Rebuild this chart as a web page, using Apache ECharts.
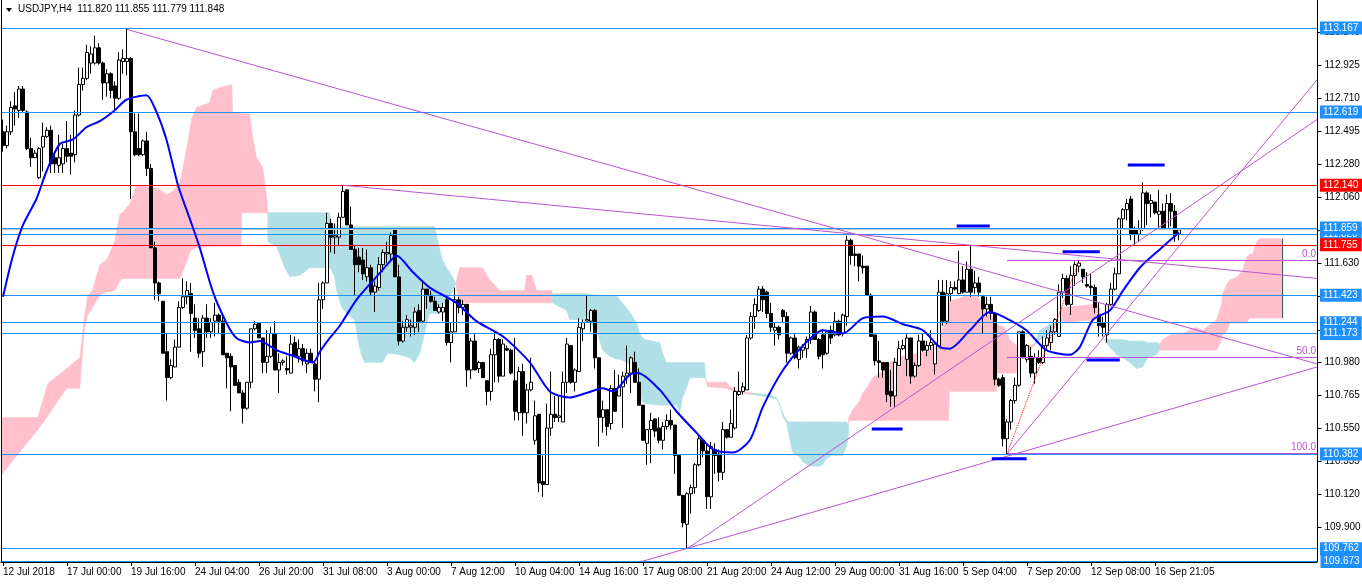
<!DOCTYPE html>
<html><head><meta charset="utf-8">
<script src="https://cdn.jsdelivr.net/npm/echarts@6/dist/echarts.min.js"></script>
<style>html,body{margin:0;padding:0;background:#fff}#c{width:1362px;height:584px}</style>
</head><body><div id="c"></div>
<script>
const tickLabels = ['12 Jul 2018','17 Jul 00:00','19 Jul 16:00','24 Jul 04:00','26 Jul 20:00','31 Jul 08:00','3 Aug 00:00','7 Aug 12:00','10 Aug 04:00','14 Aug 16:00','17 Aug 08:00','21 Aug 20:00','24 Aug 12:00','29 Aug 00:00','31 Aug 16:00','5 Sep 04:00','7 Sep 20:00','12 Sep 08:00','16 Sep 21:05'];
const priceTicks = [113.145,112.925,112.710,112.495,112.280,112.060,111.845,111.630,111.415,111.195,110.980,110.765,110.550,110.335,110.120,109.900];

const opens = [112.49,112.40,112.49,112.66,112.63,112.77,112.62,112.38,112.32,112.19,112.39,112.46,112.50,112.32,112.27,112.28,112.38,112.35,112.34,112.60,
112.80,112.84,112.94,112.94,113.04,112.94,112.81,112.87,112.79,112.71,112.95,112.95,112.97,112.49,112.38,112.34,112.43,112.25,111.73,111.50,
111.38,111.05,110.88,110.95,111.08,111.34,111.41,111.43,111.27,111.20,111.05,111.27,111.18,111.25,111.29,111.25,111.04,111.02,110.96,110.85,
110.78,110.68,110.85,111.20,111.24,111.14,110.98,111.02,111.17,110.93,110.98,110.94,110.91,111.11,111.02,111.07,110.97,111.04,110.97,110.87,
111.39,111.50,111.89,111.80,111.80,111.93,112.11,111.88,111.72,111.67,111.65,111.54,111.60,111.44,111.47,111.62,111.69,111.69,111.85,111.54,
111.12,111.21,111.21,111.21,111.32,111.25,111.46,111.42,111.38,111.31,111.31,111.39,111.11,111.18,111.39,111.34,111.36,110.93,111.12,110.94,
110.98,110.86,110.79,111.03,111.13,110.89,111.07,111.06,110.86,110.65,110.92,110.65,110.80,110.47,110.64,110.20,110.18,110.55,110.64,110.62,
110.59,110.85,111.09,110.85,110.92,111.20,111.25,111.25,111.32,111.01,110.62,110.67,110.58,110.81,110.76,110.82,110.89,110.91,110.98,110.85,
110.70,110.45,110.54,110.61,110.55,110.47,110.56,110.60,110.57,110.37,110.11,109.92,110.12,110.16,110.31,110.47,110.40,110.10,110.41,110.38,
110.26,110.54,110.49,110.55,110.77,110.79,110.80,111.14,111.28,111.32,111.46,111.44,111.30,111.19,111.21,111.32,111.28,111.04,111.14,111.00,
111.06,111.07,111.13,111.31,111.13,111.16,111.04,111.19,111.16,111.25,111.17,111.28,111.78,111.69,111.69,111.61,111.61,111.42,111.16,110.99,
110.98,110.98,110.79,110.76,110.96,111.07,111.00,111.14,110.89,110.96,111.12,111.06,111.09,110.97,111.09,111.44,111.25,111.43,111.47,111.43,
111.52,111.44,111.59,111.47,111.50,111.41,111.33,111.36,111.30,110.87,110.88,110.48,110.59,110.73,110.83,111.18,111.00,111.02,110.91,111.01,
110.98,111.09,111.11,111.18,111.15,111.44,111.53,111.36,111.55,111.61,111.59,111.49,111.48,111.47,111.29,111.24,111.16,111.36,111.46,111.56,
111.92,111.98,112.05,111.85,111.82,111.85,112.09,112.02,112.03,111.95,111.97,111.85,112.02,111.97,111.820];
const highs = [112.57,112.53,112.69,112.75,112.79,112.79,112.63,112.45,112.37,112.39,112.55,112.52,112.53,112.36,112.47,112.41,112.56,112.47,112.63,112.91,
112.91,113.06,113.05,113.12,113.07,112.95,112.90,112.88,112.82,113.01,113.03,113.17,112.98,112.61,112.61,112.44,112.49,112.28,111.77,111.51,
111.38,111.17,111.00,111.13,111.38,111.53,111.51,111.50,111.36,111.27,111.29,111.36,111.27,111.37,111.30,111.30,111.04,111.04,110.96,110.87,
110.80,110.85,111.20,111.25,111.24,111.14,111.19,111.21,111.25,111.04,111.00,111.02,111.16,111.15,111.13,111.10,111.07,111.07,110.98,111.50,
111.51,111.96,111.92,111.89,111.96,112.14,112.11,112.00,111.75,111.73,111.73,111.72,111.62,111.51,111.67,111.72,111.77,111.83,111.86,111.62,
111.25,111.29,111.26,111.34,111.36,111.52,111.46,111.45,111.41,111.36,111.37,111.41,111.24,111.47,111.41,111.39,111.36,111.14,111.17,110.99,
110.98,110.86,111.07,111.18,111.14,111.13,111.09,111.07,111.14,110.95,110.97,110.84,111.01,110.73,110.64,110.37,110.71,110.92,110.76,110.76,
110.92,111.14,111.09,110.94,111.27,111.26,111.42,111.33,111.33,111.01,110.73,110.67,110.83,110.93,110.90,110.92,111.09,111.02,111.05,110.94,
110.70,110.54,110.65,110.61,110.62,110.59,110.64,110.67,110.57,110.37,110.11,110.13,110.18,110.32,110.50,110.48,110.45,110.46,110.45,110.41,
110.59,110.54,110.67,110.82,110.92,110.85,111.16,111.31,111.40,111.48,111.48,111.45,111.37,111.24,111.22,111.33,111.31,111.15,111.17,111.09,
111.10,111.15,111.35,111.32,111.14,111.20,111.19,111.22,111.31,111.26,111.30,111.81,111.79,111.75,111.69,111.68,111.61,111.43,111.16,111.12,
110.98,110.98,110.93,111.01,111.12,111.13,111.17,111.14,110.98,111.16,111.17,111.12,111.19,111.11,111.52,111.52,111.52,111.51,111.51,111.71,
111.61,111.64,111.75,111.58,111.54,111.42,111.41,111.41,111.31,110.88,110.90,110.61,110.74,110.88,111.18,111.19,111.10,111.08,111.04,111.06,
111.15,111.19,111.22,111.27,111.49,111.56,111.55,111.61,111.64,111.65,111.59,111.57,111.56,111.49,111.37,111.28,111.37,111.50,111.60,111.93,
111.99,112.05,112.07,111.87,111.91,112.16,112.10,112.08,112.03,112.11,112.02,112.08,112.09,112.01,111.855];
const lows = [112.36,112.38,112.47,112.53,112.58,112.62,112.37,112.26,112.32,112.18,112.23,112.45,112.22,112.22,112.22,112.22,112.29,112.21,112.29,112.59,
112.76,112.83,112.87,112.93,112.93,112.70,112.72,112.71,112.63,112.70,112.87,112.86,112.05,112.33,112.33,112.33,112.20,111.73,111.39,111.38,
111.04,110.73,110.87,110.95,111.08,111.33,111.36,111.05,111.14,111.01,110.95,111.14,111.14,111.15,111.17,111.03,110.81,110.66,110.83,110.78,
110.58,110.67,110.81,111.19,111.14,110.91,110.91,111.01,110.93,110.78,110.96,110.90,110.91,111.02,110.98,110.96,110.91,110.98,110.79,110.72,
111.33,111.50,111.70,111.69,111.74,111.93,111.88,111.72,111.42,111.57,111.52,111.51,111.42,111.31,111.45,111.57,111.63,111.65,111.54,111.09,
111.11,111.18,111.15,111.16,111.18,111.24,111.33,111.37,111.32,111.30,111.25,111.09,110.98,111.18,111.30,111.29,110.82,110.87,110.93,110.91,
110.88,110.70,110.73,110.85,110.85,110.89,111.06,110.90,110.60,110.60,110.50,110.58,110.79,110.44,110.13,110.10,110.18,110.50,110.59,110.59,
110.59,110.78,110.84,110.79,110.92,111.12,111.25,111.18,110.94,110.43,110.52,110.50,110.54,110.66,110.76,110.55,110.84,110.78,110.85,110.70,
110.47,110.31,110.32,110.49,110.45,110.41,110.54,110.54,110.25,110.11,109.90,109.76,109.99,110.12,110.30,110.36,110.02,110.02,110.25,110.20,
110.21,110.48,110.49,110.54,110.76,110.77,110.80,111.13,111.20,111.31,111.31,111.27,111.18,111.09,111.13,111.24,110.98,111.03,111.00,110.94,
111.01,111.01,111.10,111.13,111.00,110.94,111.03,111.10,111.15,111.15,111.15,111.22,111.62,111.61,111.51,111.56,111.42,111.15,110.96,110.88,
110.88,110.72,110.69,110.69,110.96,111.06,110.89,110.84,110.88,110.95,111.05,111.02,111.06,110.90,111.09,111.22,111.23,111.38,111.45,111.43,
111.43,111.44,111.41,111.43,111.41,111.17,111.28,111.26,110.83,110.82,110.43,110.38,110.54,110.71,110.82,111.01,110.98,110.88,110.84,110.97,
110.97,111.06,111.06,111.16,111.15,111.40,111.35,111.29,111.48,111.57,111.50,111.47,111.42,111.30,111.15,111.15,111.11,111.35,111.45,111.56,
111.86,111.91,111.78,111.75,111.77,111.84,111.88,111.93,111.95,111.85,111.85,111.85,111.87,111.77,111.779];
const closes = [112.40,112.49,112.65,112.64,112.77,112.63,112.38,112.32,112.35,112.38,112.46,112.50,112.28,112.28,112.32,112.38,112.33,112.33,112.60,112.80,
112.84,113.01,113.00,113.04,112.94,112.81,112.87,112.76,112.71,112.96,112.97,112.97,112.49,112.34,112.34,112.43,112.25,111.73,111.50,111.43,
111.04,110.88,110.96,111.08,111.34,111.41,111.45,111.30,111.19,111.04,111.27,111.18,111.24,111.29,111.25,111.03,111.01,110.95,110.83,110.78,
110.68,110.85,111.20,111.23,111.14,110.98,111.02,111.17,110.93,110.98,110.99,110.93,111.10,111.02,111.07,110.99,111.04,110.98,110.87,111.39,
111.50,111.89,111.80,111.81,111.93,112.10,111.88,111.72,111.62,111.62,111.56,111.60,111.44,111.48,111.62,111.70,111.70,111.81,111.54,111.12,
111.21,111.26,111.22,111.31,111.25,111.46,111.42,111.38,111.32,111.34,111.34,111.11,111.18,111.39,111.34,111.36,110.93,111.12,110.93,110.98,
110.88,110.79,111.03,111.13,110.89,111.10,111.06,110.91,110.66,110.92,110.65,110.80,110.85,110.63,110.19,110.18,110.55,110.64,110.62,110.63,
110.85,111.10,110.85,110.93,111.21,111.24,111.26,111.32,111.01,110.62,110.67,110.56,110.81,110.66,110.82,110.89,110.91,111.01,110.85,110.70,
110.47,110.54,110.60,110.53,110.47,110.56,110.60,110.57,110.37,110.11,109.93,110.12,110.16,110.31,110.48,110.40,110.10,110.43,110.37,110.26,
110.54,110.49,110.58,110.79,110.79,110.82,111.14,111.28,111.36,111.46,111.39,111.30,111.21,111.21,111.16,111.28,111.04,111.14,111.01,111.08,
111.08,111.13,111.31,111.13,111.02,111.03,111.18,111.14,111.25,111.16,111.29,111.78,111.68,111.68,111.61,111.60,111.42,111.15,110.99,110.98,
110.93,110.77,110.76,110.98,111.07,111.09,111.14,110.89,110.96,111.12,111.06,111.09,111.11,111.10,111.44,111.25,111.43,111.47,111.46,111.52,
111.44,111.59,111.44,111.50,111.44,111.33,111.36,111.30,110.87,110.83,110.48,110.59,110.73,110.83,111.18,111.01,111.09,110.91,111.01,110.98,
111.09,111.14,111.18,111.26,111.44,111.53,111.36,111.55,111.62,111.63,111.54,111.48,111.47,111.34,111.22,111.21,111.36,111.46,111.56,111.92,
111.98,112.02,111.82,111.82,111.85,112.09,112.02,112.04,111.96,111.97,111.85,112.02,111.97,111.81,111.848];

const maPoints = [[0,111.41],[2.5,111.68],[5,111.88],[8.35,112.05],[10.85,112.23],[14.2,112.41],[17.5,112.44],[20.85,112.52],[24.2,112.56],[27.9,112.63],[30.85,112.70],[35.85,112.73],[38.35,112.62],[40.85,112.44],[43.75,112.14],[46.7,111.92],[49.2,111.73],[52.5,111.44],[55.85,111.24],[58.35,111.14],[61.7,111.11],[64.2,111.12],[68.35,111.06],[71.7,111.03],[77.5,110.98],[79.2,111.05],[81.7,111.14],[84.2,111.22],[88.35,111.39],[93.35,111.54],[96.7,111.64],[98.35,111.68],[102.5,111.57],[106.7,111.47],[113.35,111.37],[118.35,111.25],[125,111.15],[131.7,110.98],[136.7,110.79],[141.7,110.75],[145.85,110.78],[150,110.81],[152.5,110.79],[156.7,110.90],[158.75,110.91],[164.2,110.80],[168.35,110.66],[173.35,110.52],[177.5,110.41],[182.5,110.39],[186.7,110.47],[190,110.69],[195,110.93],[200,111.09],[205,111.19],[210,111.17],[215,111.27],[220,111.28],[225,111.23],[230,111.19],[234.2,111.08],[236.7,111.07],[241.7,111.19],[246.7,111.31],[250,111.28],[255.85,111.19],[260.85,111.06],[266.7,111.03],[269.2,111.08],[272.5,111.26],[276.7,111.32],[280,111.45],[284.2,111.60],[289.2,111.72],[294,111.83]];

// Ichimoku cloud patches: [bar index, upper price, lower price]
const cloudPink1 = [[-0.5,110.62,110.24],[8.7,110.62,110.54],[10.4,110.77,110.60],[11.2,110.84,110.63],[15.9,110.94,110.81],[19.2,111.01,110.81],[20.4,111.29,111.21],[21.2,111.42,111.29],[22.4,111.45,111.34],[24.2,111.62,111.42],[25.9,111.65,111.44],[27.9,111.77,111.45],[29.2,111.95,111.51],[29.9,111.96,111.53],[31.7,112.02,111.53],[33.4,112.14,111.53],[38.7,112.12,111.53],[40.9,112.08,111.53],[42.4,112.10,111.53],[44.2,112.16,111.53],[44.9,112.24,111.57],[45.9,112.38,111.64],[46.7,112.50,111.70],[47.2,112.58,111.72],[48.4,112.65,111.73],[51.7,112.68,111.74],[52.4,112.76,111.74],[54.2,112.78,111.74],[57.2,112.80,111.74],[57.4,112.62,111.74],[59.5,112.61,111.74],[59.7,112.61,111.96],[61.7,112.61,111.96],[62.4,112.46,111.96],[63.4,112.32,111.96],[64.9,112.26,111.96],[65.4,112.17,111.96],[65.9,112.06,111.96],[66.2,111.96,111.96]];
const cloudBlue1 = [[66.2,111.96,111.77],[68.4,111.96,111.74],[70.4,111.96,111.60],[71.7,111.96,111.54],[74.2,111.96,111.55],[76.7,111.96,111.60],[81.7,111.96,111.60],[82.0,111.87,111.59],[82.9,111.87,111.54],[83.4,111.87,111.45],[84.7,111.87,111.34],[85.9,111.87,111.30],[87.9,111.87,111.26],[88.7,111.87,111.13],[89.7,111.87,111.02],[90.4,111.87,110.98],[94.9,111.87,110.98],[96.2,111.87,111.04],[99.2,111.87,111.03],[101.7,111.87,111.01],[102.9,111.87,110.98],[104.2,111.87,111.04],[105.4,111.87,111.17],[106.2,111.87,111.26],[106.7,111.87,111.30],[107.9,111.87,111.30],[109.2,111.72,111.30],[109.9,111.65,111.37],[110.9,111.60,111.36],[112.4,111.54,111.45],[113.2,111.50,111.50]];
const cloudPink2 = [[113.2,111.50,111.50],[113.7,111.55,111.40],[114.2,111.60,111.37],[119.9,111.60,111.37],[121.2,111.54,111.37],[122.4,111.50,111.37],[124.2,111.45,111.37],[130.4,111.45,111.37],[130.9,111.55,111.37],[132.2,111.55,111.37],[133.4,111.45,111.37],[137.3,111.45,111.37]];
const cloudBlue2 = [[137.3,111.43,111.37],[140.9,111.43,111.32],[141.7,111.43,111.26],[146.2,111.43,111.26],[148.4,111.42,111.19],[149.9,111.42,111.06],[151.7,111.42,111.02],[153.4,111.42,111.00],[154.2,111.39,111.00],[156.7,111.31,110.97],[157.4,111.28,110.95],[158.4,111.24,110.92],[159.2,111.17,110.84],[159.7,111.15,110.73],[160.4,111.13,110.71],[164.2,111.11,110.70],[165.0,111.03,110.70],[165.9,110.98,110.70],[168.4,110.98,110.70],[169.2,110.98,110.65],[169.9,110.98,110.75],[170.9,110.98,110.81],[171.7,110.98,110.88],[175.4,110.98,110.88],[175.7,110.86,110.86]];
const cloudPink3 = [[175.7,110.86,110.86],[176.2,110.85,110.82],[180.9,110.85,110.81],[181.7,110.82,110.80],[184.2,110.79,110.78],[187.2,110.78,110.77]];
const cloudBlue3 = [[187.2,110.78,110.77],[191.7,110.77,110.75],[193.4,110.75,110.74],[194.2,110.71,110.70],[194.9,110.65,110.63],[195.9,110.60,110.58],[196.7,110.59,110.47],[197.4,110.59,110.39],[199.2,110.59,110.36],[199.9,110.59,110.33],[201.7,110.59,110.30],[204.2,110.59,110.30],[204.9,110.59,110.31],[205.9,110.59,110.35],[207.2,110.59,110.37],[209.9,110.59,110.37],[210.9,110.59,110.43],[211.4,110.57,110.50]];
const cloudPink4 = [[211.4,110.62,110.58],[211.7,110.63,110.60],[212.4,110.67,110.60],[213.4,110.70,110.60],[214.2,110.73,110.60],[214.9,110.78,110.60],[215.9,110.81,110.60],[216.7,110.85,110.60],[217.4,110.88,110.60],[219.9,110.92,110.60],[221.7,110.98,110.60],[224.9,111.02,110.60],[229.2,111.04,110.60],[231.7,111.06,110.60],[234.2,111.15,110.60],[235.9,111.28,110.60],[236.4,111.33,110.60],[236.6,111.38,110.79],[239.2,111.40,110.79],[240.9,111.42,110.79],[243.4,111.42,110.79],[244.2,111.38,110.79],[244.9,111.34,110.79],[246.2,111.30,110.79],[247.4,111.28,110.79],[248.4,111.23,110.79],[248.6,111.23,110.91],[250.4,111.21,110.91],[251.7,111.13,110.91],[253.4,111.09,110.91],[254.1,111.09,111.02],[255.9,111.09,111.02],[256.7,111.09,111.06],[257.9,111.10,111.09]];
const cloudBlue4 = [[257.9,111.10,111.09],[259.2,111.19,111.13],[261.7,111.23,111.16],[263.4,111.24,111.22]];
const cloudPink5 = [[263.4,111.26,111.24],[264.7,111.34,111.24],[273.0,111.36,111.26],[274.2,111.34,111.26],[275.2,111.15,111.13]];
const cloudBlue5 = [[275.2,111.13,111.13],[276.7,111.13,111.08],[278.4,111.13,111.03],[279.9,111.13,111.01],[281.7,111.12,110.98],[283.4,111.12,110.94],[284.9,111.12,110.95],[286.2,111.11,111.01],[288.4,111.11,111.03],[289.2,111.10,111.06]];
const cloudPink6 = [[289.2,111.10,111.06],[289.9,111.13,111.06],[291.7,111.16,111.06],[294.9,111.17,111.06],[298.4,111.21,111.06],[299.9,111.19,111.06],[302.4,111.24,111.06],[303.4,111.26,111.06],[304.7,111.37,111.13],[304.9,111.43,111.16],[305.9,111.49,111.18],[306.7,111.52,111.24],[308.4,111.54,111.24],[309.9,111.58,111.24],[310.9,111.67,111.24],[311.7,111.69,111.27],[312.4,111.69,111.27],[313.4,111.77,111.27],[314.2,111.79,111.27],[319.9,111.79,111.27]];
const pinkClouds = [cloudPink1, cloudPink2, cloudPink3, cloudPink4, cloudPink5, cloudPink6];
const blueClouds = [cloudBlue1, cloudBlue2, cloudBlue3, cloudBlue4, cloudBlue5];
const cloudEdge = [[319.9,111.79],[319.9,111.27]];

const blueLevels = [113.167, 112.619, 111.820, 111.859, 111.423, 111.244, 111.173, 110.382, 109.762];
const redLevels = [112.140, 111.755];
const bidPrice = 111.848;

const trendLines = [
  [[31,113.16],[328.5,110.97]],
  [[85,112.14],[328.5,111.53]],
  [[171,109.76],[328.5,112.57]],
  [[159.2,109.673],[328.5,110.95]],
  [[251,110.38],[328.5,112.83]]
];
const fibStart = 251;
const fibLevels = [111.646, 111.013, 110.382];
const fibNames = ['0.0', '50.0', '100.0'];
const fibTrend = [[251,110.38],[269,111.646]];
const srSegments = [
  [[238.4,111.873],[246.7,111.873]],
  [[264.9,111.705],[274.2,111.705]],
  [[281.2,112.272],[290.4,112.272]],
  [[217.2,110.544],[224.9,110.544]],
  [[270.9,110.995],[279.2,110.995]],
  [[247.2,110.349],[255.9,110.349]]
];
const header = 'USDJPY,H4  111.820 111.855 111.779 111.848';

// ---------- build ----------
const N = 329, STEP = 16, XMAX = N - 0.5;
const YMIN = 109.673, YMAX = 113.353;
const cats = Array.from({length: N}, (_, i) => (i % STEP === 0 && i / STEP < tickLabels.length) ? tickLabels[i / STEP] : '');
const showTick = (i) => i % STEP === 0 && i / STEP < tickLabels.length;
const FONT = 'Liberation Sans';
const candleData = opens.map((o, i) => [o, closes[i], lows[i], highs[i]]);

function cloudSeries(patches, color) {
  return {
    type: 'custom', xAxisIndex: 1, yAxisIndex: 0, z: 1, silent: true, clip: true,
    data: patches.map((p, k) => [k, 111]),
    renderItem: function (params, api) {
      const pts = patches[params.dataIndex];
      const top = pts.map(p => api.coord([p[0], p[1]]));
      const bot = pts.slice().reverse().map(p => api.coord([p[0], p[2]]));
      return { type: 'polygon', shape: { points: top.concat(bot) }, style: { fill: color, stroke: color, lineWidth: 0.5 } };
    }
  };
}
function seg(points, color, width, type, z) {
  return { type: 'line', xAxisIndex: 1, yAxisIndex: 0, data: points, showSymbol: false, symbol: 'none',
    silent: true, z: z || 6, lineStyle: { color: color, width: width, type: type || 'solid' }, animation: false };
}
function levelLabel(v, color) {
  return { show: true, position: 'end', distance: 3, formatter: v.toFixed(3), color: '#fff', backgroundColor: color,
    padding: [2, 4, 1, 3], fontSize: 10, fontFamily: FONT };
}

const levelMarks = [];
blueLevels.forEach(v => levelMarks.push({ yAxis: v, lineStyle: { color: '#1E90FF', width: 1, type: 'solid' }, label: levelLabel(v, '#1E90FF') }));
redLevels.forEach(v => levelMarks.push({ yAxis: v, lineStyle: { color: '#FF0000', width: 1, type: 'solid' }, label: levelLabel(v, '#FF0000') }));
const bidMark = { yAxis: bidPrice, lineStyle: { color: '#C8C8C8', width: 1, type: 'solid' }, label: { show: false } };

const fibMarks = fibLevels.map((v, k) => [
  { coord: [fibStart, v], lineStyle: { color: '#BA55D3', width: 1, type: 'solid' },
    label: { show: true, position: 'insideEndTop', formatter: fibNames[k], color: '#BA55D3', fontSize: 10, fontFamily: FONT, distance: 1 } },
  { coord: [XMAX, v] }
]);

const series = [];
pinkClouds.forEach(p => series.push(cloudSeries([p], '#FFC0CB')));
blueClouds.forEach(p => series.push(cloudSeries([p], '#B0E0E6')));
series.push(seg(cloudEdge, '#2F4F4F', 1, 'solid', 2));
// right-axis tick marks and labels, placed through the axis scale; plus the bottom level label
series.push({
  type: 'custom', xAxisIndex: 1, yAxisIndex: 0, z: 2, silent: true, clip: false,
  data: priceTicks.map(v => [XMAX, v]).concat([[XMAX, YMIN]]),
  renderItem: function (params, api) {
    const v = api.value(1);
    const p = api.coord([XMAX, v]);
    const x = Math.round(p[0]) + 0.5, y = Math.round(p[1]) + 0.5;
    if (v === YMIN) {
      return { type: 'group', children: [
        { type: 'line', shape: { x1: 1, y1: y - 1, x2: x, y2: y - 1 }, style: { stroke: '#1E90FF', lineWidth: 1 } },
        { type: 'rect', shape: { x: x + 3, y: y - 7.5, width: 50, height: 13 }, style: { fill: '#1E90FF' } },
        { type: 'text', x: x + 6, y: y - 1, style: { text: v.toFixed(3), fill: '#fff', font: '10px "Liberation Sans"', verticalAlign: 'middle' } }
      ] };
    }
    return { type: 'group', children: [
      { type: 'line', shape: { x1: x, y1: y, x2: x + 4, y2: y }, style: { stroke: '#000', lineWidth: 1 } },
      { type: 'text', x: x + 7, y: y, style: { text: v.toFixed(3), fill: '#000', font: '10px "Liberation Sans"', verticalAlign: 'middle' } }
    ] };
  }
});
series.push({ type: 'line', xAxisIndex: 1, yAxisIndex: 0, data: [], z: 3, silent: true,
  markLine: { symbol: 'none', silent: true, animation: false, data: [bidMark].concat(levelMarks) } });
series.push({
  type: 'candlestick', xAxisIndex: 0, yAxisIndex: 0, data: candleData, barWidth: 3, z: 4, silent: true,
  itemStyle: { color: '#FFFFFF', color0: '#000000', borderColor: '#000000', borderColor0: '#000000', borderWidth: 1 }
});
series.push({ type: 'line', xAxisIndex: 1, yAxisIndex: 0, data: maPoints, showSymbol: false, symbol: 'none', smooth: 0.25,
  z: 5, silent: true, lineStyle: { color: '#0000FF', width: 2 } });
trendLines.forEach(t => series.push(seg(t, '#BA55D3', 1)));
series.push({ type: 'line', xAxisIndex: 1, yAxisIndex: 0, data: [], z: 6, silent: true,
  markLine: { symbol: 'none', silent: true, animation: false, data: fibMarks } });
series.push(seg(fibTrend, '#FF0000', 1, 'dotted', 7));
srSegments.forEach(s => series.push(seg(s, '#0000FF', 3, 'solid', 7)));

const chart = echarts.init(document.getElementById('c'), null, { renderer: 'canvas' });
chart.setOption({
  animation: false,
  backgroundColor: '#FFFFFF',
  grid: { left: 1, top: 0, width: 1316, height: 562, containLabel: false },
  xAxis: [
    { type: 'category', data: cats, boundaryGap: true, gridIndex: 0,
      axisLine: { show: true, lineStyle: { color: '#000', width: 1 } },
      axisTick: { show: true, alignWithLabel: true, interval: showTick, length: 4, lineStyle: { color: '#000' } },
      axisLabel: { show: true, interval: showTick, align: 'left', color: '#000', fontSize: 10, fontFamily: FONT, margin: 5 },
      splitLine: { show: false } },
    { type: 'value', min: -0.5, max: XMAX, show: false, gridIndex: 0, splitLine: { show: false } }
  ],
  yAxis: [{
    type: 'value', position: 'right', min: YMIN, max: YMAX, show: false, splitLine: { show: false }
  }],
  graphic: [
    { type: 'line', shape: { x1: 1.5, y1: 0, x2: 1.5, y2: 562 }, style: { stroke: '#000', lineWidth: 1 }, z: 100 },
    { type: 'line', shape: { x1: 1317.5, y1: 0, x2: 1317.5, y2: 562 }, style: { stroke: '#000', lineWidth: 1 }, z: 100 },
    { type: 'polygon', shape: { points: [[6, 8], [12, 8], [9, 12]] }, style: { fill: '#000' }, z: 100 },
    { type: 'text', left: 18, top: 4, style: { text: header, fill: '#000', font: '10px "Liberation Sans"' }, z: 100 }
  ],
  series: series
});
</script>
</body></html>
